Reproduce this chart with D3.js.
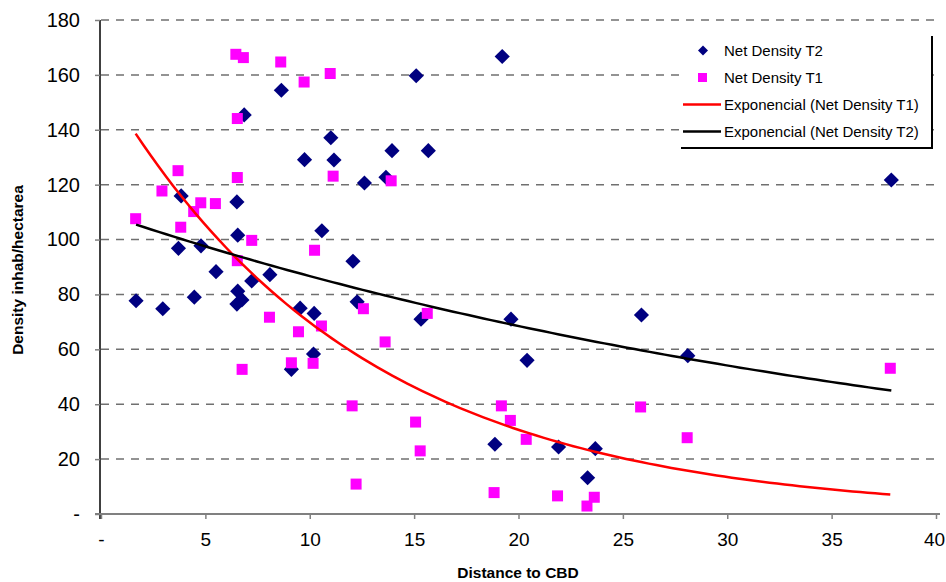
<!DOCTYPE html>
<html>
<head>
<meta charset="utf-8">
<script src="https://cdn.jsdelivr.net/npm/d3@7"></script>
<style>
  body { margin: 0; background: #fff; }
  svg { display: block; font-family: Arial, "Liberation Sans", sans-serif; }
</style>
</head>
<body>
<div id="chart"></div>
<script>
// Net Density T2 (navy diamonds)
const distT2 = [1.68, 2.96, 3.71, 3.84, 4.47, 4.79, 5.51, 6.51, 6.55, 6.55, 6.51, 6.75, 6.86, 7.22,
  8.09, 8.64, 9.54, 10.18, 10.21, 9.12, 9.75, 10.58, 11.01, 11.16, 12.07, 12.27, 12.62, 13.65,
  13.94, 15.10, 15.33, 15.68, 18.87, 19.22, 19.64, 20.41, 21.92, 23.31, 23.68, 25.89, 28.11, 37.86];
const densT2 = [77.7, 74.8, 96.8, 115.9, 79.0, 97.7, 88.3, 113.7, 101.6, 81.2, 76.5, 78.0, 145.4, 84.9,
  87.2, 154.4, 75.0, 58.3, 73.1, 52.7, 129.1, 103.2, 137.1, 129.0, 92.1, 77.3, 120.6, 122.7,
  132.4, 159.7, 71.0, 132.4, 25.4, 166.7, 71.0, 56.0, 24.4, 13.2, 23.8, 72.5, 57.7, 121.7];

// Net Density T1 (magenta squares)
const distT1 = [1.66, 2.92, 3.69, 3.82, 4.44, 4.78, 5.48, 6.46, 6.82, 6.53, 6.53, 6.53, 6.76, 7.22,
  8.07, 8.61, 9.12, 9.46, 9.73, 10.16, 10.23, 10.56, 10.98, 11.12, 12.03, 12.22, 12.57, 13.61,
  13.90, 15.07, 15.29, 15.63, 18.83, 19.18, 19.61, 20.37, 21.87, 23.28, 23.63, 25.85, 28.08, 37.81];
const densT1 = [107.6, 117.7, 125.1, 104.5, 110.2, 113.4, 113.1, 167.5, 166.3, 144.1, 122.6, 92.3, 52.7, 99.7,
  71.7, 164.7, 55.1, 66.4, 157.4, 54.9, 96.1, 68.5, 160.5, 123.1, 39.4, 10.9, 74.8, 62.7,
  121.4, 33.5, 23.0, 73.1, 7.8, 39.4, 34.1, 27.2, 6.6, 2.9, 6.1, 39.0, 27.8, 53.1];

const xTicks = [0, 5, 10, 15, 20, 25, 30, 35, 40];
const yTicks = [0, 20, 40, 60, 80, 100, 120, 140, 160, 180];
const legendLabels = ["Net Density T2", "Net Density T1",
  "Exponencial (Net Density T1)", "Exponencial (Net Density T2)"];

const W = 946, H = 582;
const svg = d3.select("#chart").append("svg")
  .attr("width", W).attr("height", H);

const x = d3.scaleLinear().domain([0, 40]).range([101, 936]);
const y = d3.scaleLinear().domain([0, 180]).range([514, 20]);

const fmt = d => d === 0 ? "-" : d;

// gridlines
svg.append("g")
  .selectAll("line")
  .data(yTicks.filter(d => d > 0))
  .enter().append("line")
  .attr("x1", x(0)).attr("x2", x(40))
  .attr("y1", d => y(d)).attr("y2", d => y(d))
  .attr("stroke", "#707070")
  .attr("stroke-width", 1.5)
  .attr("stroke-dasharray", "8,7");

// y axis
const yAxis = svg.append("g")
  .attr("transform", `translate(${x(0) - 1},0)`)
  .call(d3.axisLeft(y).tickValues(yTicks).tickFormat(fmt).tickSize(5).tickPadding(15));
yAxis.select(".domain").attr("stroke", "#000").attr("stroke-width", 1.5)
  .attr("d", `M0,${y(180)}V${y(0) + 5}`);
yAxis.selectAll(".tick line").attr("stroke", "#808080").attr("stroke-width", 1.5);
yAxis.selectAll("text").attr("font-size", 20).attr("fill", "#000")
  .attr("font-family", "Arial, 'Liberation Sans', sans-serif");

// x axis
const xAxis = svg.append("g")
  .attr("transform", `translate(0,${y(0)})`)
  .call(d3.axisBottom(x).tickValues(xTicks).tickFormat(fmt).tickSize(5).tickPadding(14));
xAxis.select(".domain").attr("stroke", "#808080").attr("stroke-width", 2)
  .attr("d", `M95,0H940`);
xAxis.selectAll(".tick line").attr("stroke", "#808080").attr("stroke-width", 1.5);
xAxis.selectAll("text").attr("font-size", 19).attr("fill", "#000")
  .attr("font-family", "Arial, 'Liberation Sans', sans-serif");
xAxis.selectAll(".tick").filter(d => d === 40).select("text")
  .attr("dx", -2);

// axis titles
svg.append("text")
  .attr("x", 518).attr("y", 578)
  .attr("text-anchor", "middle")
  .attr("font-size", 15.5).attr("font-weight", "bold")
  .text("Distance to CBD");

svg.append("text")
  .attr("transform", "translate(23,270) rotate(-90)")
  .attr("text-anchor", "middle")
  .attr("font-size", 15.5).attr("font-weight", "bold")
  .text("Density inhab/hectarea");

// points
const t2 = distT2.map((d, i) => ({x: d, y: densT2[i]}));
const t1 = distT1.map((d, i) => ({x: d, y: densT1[i]}));

svg.append("g").selectAll("path")
  .data(t2).enter().append("path")
  .attr("d", d3.symbol().type(d3.symbolSquare).size(115))
  .attr("transform", d => `translate(${x(d.x)},${y(d.y)}) rotate(45)`)
  .attr("fill", "#000080");

svg.append("g").selectAll("rect")
  .data(t1).enter().append("rect")
  .attr("x", d => x(d.x) - 5.5).attr("y", d => y(d.y) - 5.5)
  .attr("width", 11).attr("height", 11)
  .attr("fill", "#ff00ff");

// exponential trendlines (least squares on ln y, like a spreadsheet)
function expFit(pts) {
  const mx = d3.mean(pts, p => p.x);
  const ml = d3.mean(pts, p => Math.log(p.y));
  let sxy = 0, sxx = 0;
  pts.forEach(p => { sxy += (p.x - mx) * (Math.log(p.y) - ml); sxx += (p.x - mx) * (p.x - mx); });
  const b = sxy / sxx;
  const a = Math.exp(ml - b * mx);
  const [lo, hi] = d3.extent(pts, p => p.x);
  return d3.range(0, 101).map(k => {
    const v = lo + (hi - lo) * k / 100;
    return {x: v, y: a * Math.exp(b * v)};
  });
}

const line = d3.line().x(d => x(d.x)).y(d => y(d.y));

svg.append("path")
  .datum(expFit(t1))
  .attr("fill", "none").attr("stroke", "#ff0000").attr("stroke-width", 2.5)
  .attr("d", line);

svg.append("path")
  .datum(expFit(t2))
  .attr("fill", "none").attr("stroke", "#000").attr("stroke-width", 2.5)
  .attr("d", line);

// legend
const lg = svg.append("g");
lg.append("rect")
  .attr("x", 681).attr("y", 37).attr("width", 251).attr("height", 111)
  .attr("fill", "#fff");
lg.append("path")
  .attr("d", "M932,36V148H681")
  .attr("fill", "none").attr("stroke", "#000").attr("stroke-width", 2);

const items = lg.selectAll("g.item")
  .data(legendLabels).enter().append("g")
  .attr("class", "item")
  .attr("transform", (d, i) => `translate(0,${50.5 + i * 27})`);

items.append("text")
  .attr("x", 724).attr("y", 0).attr("dy", "0.35em")
  .attr("font-size", 15).attr("fill", "#000")
  .text(d => d);

items.filter((d, i) => i === 0).append("path")
  .attr("d", d3.symbol().type(d3.symbolSquare).size(50))
  .attr("transform", "translate(703,0) rotate(45)")
  .attr("fill", "#000080");

items.filter((d, i) => i === 1).append("rect")
  .attr("x", 698).attr("y", -4.5).attr("width", 9).attr("height", 9)
  .attr("fill", "#ff00ff");

items.filter((d, i) => i >= 2).append("line")
  .attr("x1", 683).attr("x2", 721)
  .attr("stroke", (d, i) => i === 0 ? "#ff0000" : "#000")
  .attr("stroke-width", 2.5);
</script>
</body>
</html>
